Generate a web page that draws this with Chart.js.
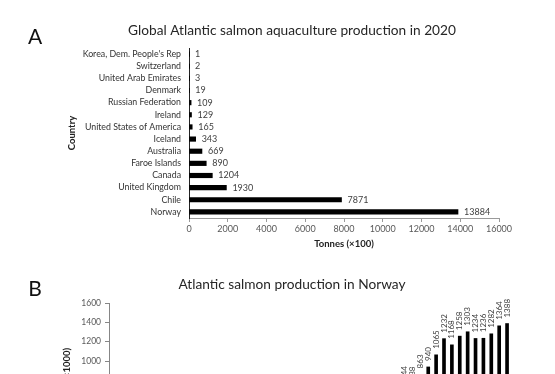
<!DOCTYPE html>
<html>
<head>
<meta charset="utf-8">
<script src="https://cdn.jsdelivr.net/npm/chart.js@4.4.0/dist/chart.umd.min.js"></script>
<style>
  html, body { margin: 0; padding: 0; background: #fff; overflow: hidden; }
  #wrap { position: relative; width: 555px; height: 374px; overflow: hidden; }
  #boxA { position: absolute; left: 0; top: 0; width: 555px; height: 255px; }
  #boxB { position: absolute; left: 0; top: 258px; width: 555px; height: 270px; }
</style>
</head>
<body>
<div id="wrap">
  <div id="boxA"><canvas id="chartA"></canvas></div>
  <div id="boxB"><canvas id="chartB"></canvas></div>
</div>
<script>
// Panel A - 2020 production by country (tonnes x100)
const countries = [
  "Korea, Dem. People's Rep", 'Switzerland', 'United Arab Emirates', 'Denmark',
  'Russian Federation', 'Ireland', 'United States of America', 'Iceland',
  'Australia', 'Faroe Islands', 'Canada', 'United Kingdom', 'Chile', 'Norway',
];
const tonnes2020 = [1, 2, 3, 19, 109, 129, 165, 343, 669, 890, 1204, 1930, 7871, 13884];
const ticksA = [0, 2000, 4000, 6000, 8000, 10000, 12000, 14000, 16000];

// Panel B - Norway production by year (tonnes x1000)
const years = [
  '1970', '1971', '1972', '1973', '1974', '1975', '1976', '1977', '1978', '1979',
  '1980', '1981', '1982', '1983', '1984', '1985', '1986', '1987', '1988', '1989',
  '1990', '1991', '1992', '1993', '1994', '1995', '1996', '1997', '1998', '1999',
  '2000', '2001', '2002', '2003', '2004', '2005', '2006', '2007', '2008', '2009',
  '2010', '2011', '2012', '2013', '2014', '2015', '2016', '2017', '2018', '2019', '2020',
];
const norway = [
  0, 0, 0, 0, 1, 1, 1, 2, 4, 4,
  4, 9, 10, 17, 22, 28, 45, 47, 80, 115,
  146, 155, 141, 170, 204, 262, 298, 333, 361, 425,
  441, 436, 462, 509, 537, 572, 630, 744, 738, 863,
  940, 1065, 1232, 1168, 1258, 1303, 1234, 1236, 1282, 1364, 1388,
];
const ticksB = [0, 200, 400, 600, 800, 1000, 1200, 1400, 1600];

const FONT = "Lato, 'Liberation Sans', sans-serif";

// Подписи значений у столбцов
const barValueLabels = {
  id: 'barValueLabels',
  afterDatasetsDraw(chart, args, options) {
    const { ctx } = chart;
    const meta = chart.getDatasetMeta(0);
    const values = chart.data.datasets[0].data;
    ctx.save();
    ctx.font = options.font;
    ctx.fillStyle = options.color;
    ctx.textAlign = 'left';
    ctx.textBaseline = 'middle';
    meta.data.forEach((bar, i) => {
      const text = String(values[i]);
      if (options.vertical) {
        ctx.save();
        ctx.translate(bar.x, bar.y - options.offset);
        ctx.rotate(-Math.PI / 2);
        ctx.fillText(text, 0, 0);
        ctx.restore();
      } else {
        ctx.fillText(text, bar.x + options.offset, bar.y);
      }
    });
    ctx.restore();
  },
};

// Буква панели и заголовок
const panelHeading = {
  id: 'panelHeading',
  afterDraw(chart, args, options) {
    const { ctx } = chart;
    ctx.save();
    ctx.textAlign = 'center';
    ctx.textBaseline = 'middle';
    ctx.fillStyle = '#111';
    ctx.font = `21px ${FONT}`;
    ctx.fillText(options.letter, options.letterX, options.letterY);
    ctx.fillStyle = '#262626';
    ctx.font = `13.7px ${FONT}`;
    ctx.fillText(options.title, options.titleX, options.titleY);
    ctx.restore();
  },
};

Chart.defaults.font.family = FONT;
Chart.defaults.animation = false;

new Chart(document.getElementById('chartA'), {
  type: 'bar',
  data: {
    labels: countries,
    datasets: [{
      data: tonnes2020,
      backgroundColor: '#000',
      barThickness: 4.5,
    }],
  },
  options: {
    indexAxis: 'y',
    responsive: true,
    maintainAspectRatio: false,
    layout: { padding: { top: 48, left: 60, right: 56, bottom: 0 } },
    scales: {
      x: {
        min: 0,
        max: 16000,
        afterBuildTicks: (scale) => { scale.ticks = ticksA.map((v) => ({ value: v })); },
        afterFit: (scale) => { scale.height = 37; },
        border: { display: true, color: '#9a9a9a' },
        grid: { drawOnChartArea: false, drawTicks: true, tickLength: 4, color: '#9a9a9a' },
        ticks: {
          padding: 2, color: '#595959', font: { size: 9 }, maxRotation: 0, callback: (v) => String(v),
        },
        title: {
          display: true,
          text: 'Tonnes (×100)',
          color: '#222',
          font: { size: 9.5, weight: 'bold' },
          padding: { top: 0, bottom: 5 },
        },
      },
      y: {
        afterFit: (scale) => { scale.width = 129; },
        border: { display: true, color: '#222' },
        grid: { display: false, drawTicks: false },
        ticks: {
          padding: 8, color: '#333', font: { size: 8.8 }, autoSkip: false,
        },
        title: {
          display: true,
          text: 'Country',
          color: '#222',
          font: { size: 9.5, weight: 'bold' },
          padding: { top: 6, bottom: 0 },
        },
      },
    },
    plugins: {
      legend: { display: false },
      tooltip: { enabled: false },
      barValueLabels: { font: `9px ${FONT}`, color: '#404040', offset: 6, vertical: false },
      panelHeading: {
        letter: 'A', letterX: 35, letterY: 37,
        title: 'Global Atlantic salmon aquaculture production in 2020', titleX: 292, titleY: 31,
      },
    },
  },
  plugins: [barValueLabels, panelHeading],
});

new Chart(document.getElementById('chartB'), {
  type: 'bar',
  data: {
    labels: years,
    datasets: [{
      data: norway,
      backgroundColor: '#000',
      barThickness: 3,
    }],
  },
  options: {
    responsive: true,
    maintainAspectRatio: false,
    layout: { padding: { top: 45, left: 55, right: 44, bottom: 0 } },
    scales: {
      x: {
        afterFit: (scale) => { scale.height = 70; },
        border: { display: true, color: '#9a9a9a' },
        grid: { display: false },
        ticks: {
          color: '#595959', font: { size: 8 }, minRotation: 90, maxRotation: 90, autoSkip: false,
        },
      },
      y: {
        min: 0,
        max: 1600,
        afterBuildTicks: (scale) => { scale.ticks = ticksB.map((v) => ({ value: v })); },
        afterFit: (scale) => { scale.width = 54; },
        border: { display: true, color: '#868686' },
        grid: { drawOnChartArea: false, drawTicks: true, tickLength: 4, color: '#868686' },
        ticks: {
          padding: 4, color: '#595959', font: { size: 8.5 }, callback: (v) => String(v),
        },
        title: {
          display: true,
          text: 'Tonnes (×1000)',
          color: '#222',
          font: { size: 9.5, weight: 'bold' },
          padding: { top: 6, bottom: 0 },
        },
      },
    },
    plugins: {
      legend: { display: false },
      tooltip: { enabled: false },
      barValueLabels: { font: `8px ${FONT}`, color: '#404040', offset: 6, vertical: true },
      panelHeading: {
        letter: 'B', letterX: 35, letterY: 31,
        title: 'Atlantic salmon production in Norway', titleX: 292, titleY: 27,
      },
    },
  },
  plugins: [barValueLabels, panelHeading],
});
</script>
</body>
</html>
